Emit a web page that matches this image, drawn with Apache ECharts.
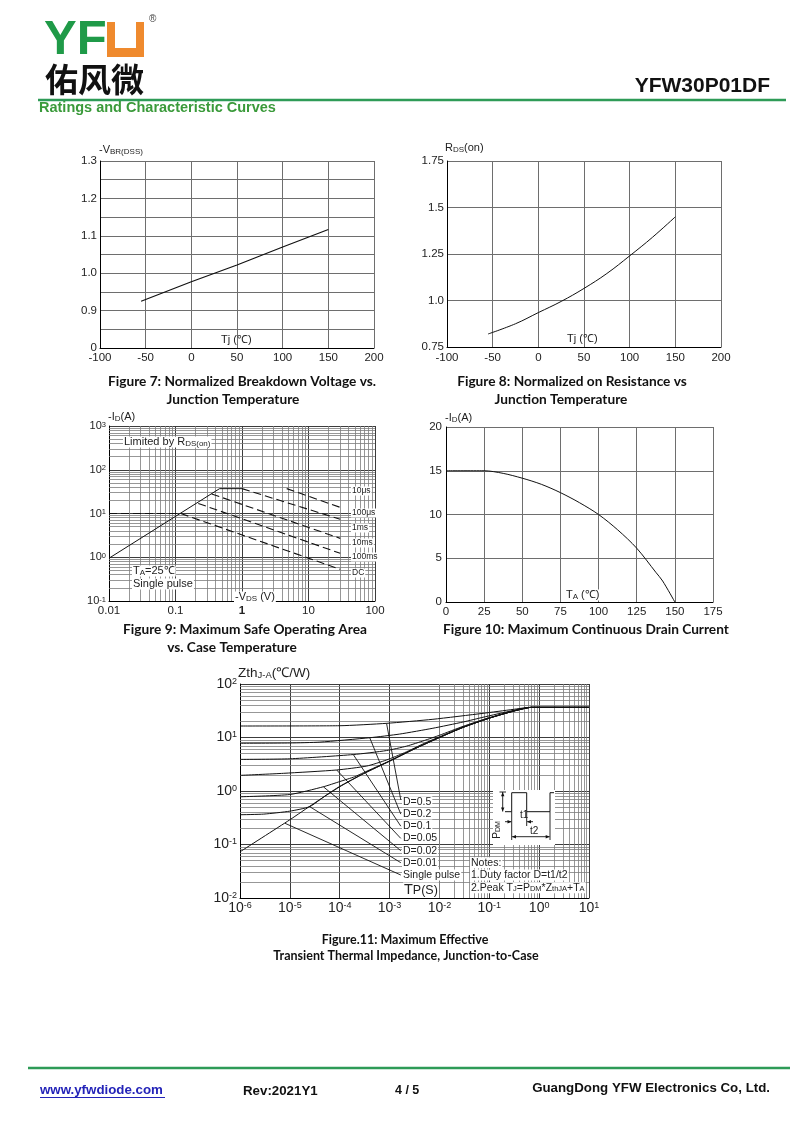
<!DOCTYPE html>
<html><head><meta charset="utf-8">
<script src="https://cdn.jsdelivr.net/npm/echarts@6/dist/echarts.min.js"></script>
<style>html,body{margin:0;padding:0;background:#fff}#c{width:800px;height:1130px}</style>
</head><body><div id="c"></div>
<script>
// ---------------- DATA ----------------
// Figure 7: normalized breakdown voltage vs Tj
const fig7Tj = [-55, 0, 50, 100, 150];
const fig7Vbr = [0.925, 0.977, 1.022, 1.070, 1.117];
// Figure 8: normalized RDS(on) vs Tj
const fig8Tj = [-55, -25, 0, 25, 50, 75, 100, 125, 150];
const fig8Rds = [0.82, 0.875, 0.935, 0.995, 1.065, 1.145, 1.24, 1.34, 1.45];
// Figure 9: safe operating area [VDS, ID]
const soaRdsLimit = [[0.01, 0.95], [0.46, 37], [1.0, 37]];
const soaLeftDashed = [[0.01, 10], [0.12, 10]];
const soa10us = [[4.7, 37], [30, 13.8]];
const soa100us = [[1.0, 37], [30, 7.4]];
const soa1ms = [[0.35, 28], [30, 2.7]];
const soa10ms = [[0.22, 17], [30, 1.23]];
const soaDC = [[0.12, 10], [30, 0.53]];
const soaLabels = ['10μs', '100μs', '1ms', '10ms', '100ms', 'DC'];
// Figure 10: max continuous drain current vs TA
const fig10Ta = [0, 25, 37.5, 50, 62.5, 75, 87.5, 100, 112.5, 125, 137.5, 142, 150];
const fig10Id = [15, 15, 14.7, 14.15, 13.45, 12.5, 11.35, 10, 8.25, 6.15, 3.4, 2.4, 0];
// Figure 11: transient thermal impedance [tp, Zth]
const zthD05 = [[1e-6,16.4],[1e-4,16.6],[8.7e-4,18.4],[7.4e-3,21.9],[0.075,28.3],[0.3,33.5],[0.65,36.6],[10,36.6]];
const zthD02 = [[1e-6,7.8],[1e-5,7.9],[4e-5,8.2],[4e-4,9.9],[1.6e-3,11.6],[7.4e-3,14.9],[3e-2,19.5],[0.075,23.9],[0.3,32],[0.7,36.6],[10,36.6]];
const zthD01 = [[1e-6,3.9],[1e-5,4.0],[1.87e-4,4.8],[8.7e-4,5.7],[2.2e-3,6.9],[5e-3,8.8],[1e-2,11],[3e-2,16.2],[0.1,23.5],[0.3,31.2],[0.7,36.6],[10,36.6]];
const zthD005 = [[1e-6,1.96],[7.4e-6,2.14],[8.7e-5,2.47],[3.5e-4,2.93],[8.7e-4,3.8],[2e-3,5.2],[5e-3,7.8],[1e-2,10.3],[3e-2,15.7],[0.1,23.1],[0.3,31],[0.7,36.6],[10,36.6]];
const zthD002 = [[1e-6,0.78],[1e-5,0.86],[4.7e-5,1.2],[1e-4,1.5],[2e-4,1.85],[3e-4,2.2],[1e-3,3.65],[3e-3,6.0],[1e-2,10],[3e-2,15.5],[0.1,23],[0.3,31],[0.7,36.6],[10,36.6]];
const zthD001 = [[1e-6,0.36],[3e-6,0.37],[1e-5,0.42],[2.5e-5,0.51],[5e-5,0.8],[1e-4,1.22],[3e-4,2.12],[1e-3,3.62],[3e-3,6.0],[1e-2,10],[3e-2,15.5],[0.1,23],[0.3,31],[0.7,36.6],[10,36.6]];
const zthSingle = [[1e-6,0.073],[1e-5,0.29],[3e-5,0.58],[1e-4,1.2],[3e-4,2.1],[1e-3,3.6],[3e-3,6],[1e-2,10],[3e-2,15.5],[0.1,23],[0.3,31],[0.7,36.6],[10,36.6]];
const zthLeaders = [
  [[8.7e-4,18.4],[1.68e-3,0.68]],
  [[4.0e-4,9.9],[1.68e-3,0.37]],
  [[1.87e-4,4.8],[1.68e-3,0.22]],
  [[8.7e-5,2.47],[1.68e-3,0.13]],
  [[4.7e-5,1.2],[1.68e-3,0.0766]],
  [[2.5e-5,0.51],[1.68e-3,0.0457]],
  [[8.0e-6,0.249],[1.68e-3,0.0269]]
];
const zthLabels = ['D=0.5','D=0.2','D=0.1','D=0.05','D=0.02','D=0.01','Single pulse'];
// log-axis minor grid multipliers
const minorMult = [2,3,4,5,6,7,8,9];
const fig9XLabels = ['0.01','0.1','{b|1}','10','100'];

// ---------------- HELPERS ----------------
const FONT = '"Liberation Sans", Arial, sans-serif';
const CAP = 'Lato, "Noto Sans", sans-serif';
function zip(a, b){ return a.map((v,i)=>[v,b[i]]); }
function logVals(e0, e1){ const o=[]; for(let e=e0;e<e1;e++) for(const m of minorMult) o.push(m*Math.pow(10,e)); return o; }
function sup(v){ const e=Math.round(Math.log10(v)); return '10{s|'+e+'}'; }

const axLine = {show:true, onZero:false, lineStyle:{color:'#000', width:1}};
const noTick = {show:false};
function split(c){ return {show:true, lineStyle:{color:c||'#6e6e6e', width:1}}; }
function lab(m, extra){ return Object.assign({color:'#222', fontSize:11.5, fontFamily:FONT, margin:m}, extra||{}); }

function minorSeries(gi, xs, ys, p0){
  const data = [];
  xs.forEach(v=>data.push({xAxis:v}));
  ys.forEach(v=>data.push({yAxis:v}));
  return {type:'line', xAxisIndex:gi, yAxisIndex:gi, data:[p0], showSymbol:false, silent:true, z:1,
    lineStyle:{opacity:0},
    markLine:{silent:true, symbol:['none','none'], label:{show:false}, animation:false,
      lineStyle:{color:'#7c7c7c', width:0.8, type:'solid'}, emphasis:{disabled:true}, data}};
}
function curve(gi, data, opt){
  return Object.assign({type:'line', xAxisIndex:gi, yAxisIndex:gi, data, showSymbol:false, silent:true, z:5,
    lineStyle:{color:'#111', width:1}}, opt||{});
}

// ---------------- AXES ----------------
const xAxis = [
  {gridIndex:0, type:'value', min:-100, max:200, interval:50, axisLine:axLine, axisTick:noTick, splitLine:split(), axisLabel:lab(4)},
  {gridIndex:1, type:'value', min:-100, max:200, interval:50, axisLine:axLine, axisTick:noTick, splitLine:split(), axisLabel:lab(5)},
  {gridIndex:2, type:'log', logBase:10, min:0.01, max:100, splitNumber:4, axisLine:axLine, axisTick:noTick, splitLine:split('#3c3c3c'),
    axisLabel:lab(4, {formatter:v=>fig9XLabels[Math.round(Math.log10(v))+2], rich:{b:{fontWeight:'bold', fontSize:11.5, fontFamily:FONT, color:'#222'}}})},
  {gridIndex:3, type:'value', min:0, max:175, interval:25, axisLine:axLine, axisTick:noTick, splitLine:split(), axisLabel:lab(4)},
  {gridIndex:4, type:'log', logBase:10, min:1e-6, max:10, splitNumber:7, axisLine:axLine, axisTick:noTick, splitLine:split('#3c3c3c'),
    axisLabel:lab(3, {fontSize:14, formatter:sup, rich:{s:{fontSize:9, verticalAlign:'top', fontFamily:FONT, color:'#222'}}})}
];
const yAxis = [
  {gridIndex:0, type:'value', min:0.8, max:1.3, interval:0.05, axisLine:axLine, axisTick:noTick, splitLine:split(),
    axisLabel:lab(3, {formatter:v=>{const r=Math.round(v*100); if(r===80) return '0'; if(r%10===0) return (r/100).toFixed(1); return '';}})},
  {gridIndex:1, type:'value', min:0.75, max:1.75, interval:0.25, axisLine:axLine, axisTick:noTick, splitLine:split(),
    axisLabel:lab(3, {formatter:v=>Math.abs(v-1)<1e-9?'1.0':String(+v.toFixed(2))})},
  {gridIndex:2, type:'log', logBase:10, min:0.1, max:1000, splitNumber:4, axisLine:axLine, axisTick:noTick, splitLine:split('#3c3c3c'),
    axisLabel:lab(3, {fontSize:11, formatter:sup, rich:{s:{fontSize:7.5, verticalAlign:'top', fontFamily:FONT, color:'#222'}}})},
  {gridIndex:3, type:'value', min:0, max:20, interval:5, axisLine:axLine, axisTick:noTick, splitLine:split(), axisLabel:lab(4)},
  {gridIndex:4, type:'log', logBase:10, min:0.01, max:100, splitNumber:4, axisLine:axLine, axisTick:noTick, splitLine:split('#3c3c3c'),
    axisLabel:lab(3, {fontSize:14, formatter:sup, rich:{s:{fontSize:9, verticalAlign:'top', fontFamily:FONT, color:'#222'}}})}
];

// ---------------- SERIES ----------------
const dash = {color:'#111', width:1.1, type:[8,4]};
const series = [
  curve(0, zip(fig7Tj, fig7Vbr), {lineStyle:{color:'#111', width:1.2}}),
  curve(1, zip(fig8Tj, fig8Rds), {smooth:0.4}),
  minorSeries(2, logVals(-2,2), logVals(-1,3), [0.01,0.1]),
  curve(2, soaRdsLimit),
  curve(2, soaLeftDashed, {lineStyle:dash}),
  curve(2, soa10us, {lineStyle:dash}),
  curve(2, soa100us, {lineStyle:dash}),
  curve(2, soa1ms, {lineStyle:dash}),
  curve(2, soa10ms, {lineStyle:dash}),
  curve(2, soaDC, {lineStyle:dash}),
  curve(3, zip(fig10Ta, fig10Id), {smooth:0.3}),
  minorSeries(4, logVals(-6,1), logVals(-2,2), [1e-6,0.01]),
  curve(4, zthD05, {smooth:0.2}),
  curve(4, zthD02, {smooth:0.2}),
  curve(4, zthD01, {smooth:0.2}),
  curve(4, zthD005, {smooth:0.2}),
  curve(4, zthD002, {smooth:0.2}),
  curve(4, zthD001, {smooth:0.2}),
  curve(4, zthSingle, {smooth:0.2})
];
zthLeaders.forEach(l=>series.push(curve(4, l, {lineStyle:{color:'#111', width:0.9}})));

// ---------------- GRAPHICS (text / decorations) ----------------
function txt(x, y, text, o){
  return {type:'text', x, y, z:100, silent:true,
    style:Object.assign({text, fill:'#222', fontSize:11.5, fontFamily:FONT, align:'left', verticalAlign:'middle'}, o||{})};
}
function ln(x1,y1,x2,y2,c,w,z){ return {type:'line', z:z||100, silent:true, shape:{x1,y1,x2,y2}, style:{stroke:c||'#111', lineWidth:w||1}}; }
const subRich = (fs)=>({sub:{fontSize:fs, verticalAlign:'bottom', fontFamily:FONT, fill:'#222'}});
const white = {backgroundColor:'#fff', padding:[0,1]};
const capStyle = {fontFamily:CAP, fontWeight:'bold', fontSize:13.7, fill:'#111', align:'center'};
const capStyle11 = Object.assign({}, capStyle, {fontSize:12.5});
const GREEN = '#2e9b57';

const graphics = [
  // header
  txt(44, 40, 'YF', {fontSize:49, fontWeight:'bold', fill:'#1f9a48', fontFamily:FONT}),
  {type:'rect', z:100, silent:true, shape:{x:107, y:22, width:37, height:35}, style:{fill:'#ef8a2e'}},
  {type:'rect', z:101, silent:true, shape:{x:115, y:22, width:21, height:26}, style:{fill:'#fff'}},
  txt(149, 19, '®', {fontSize:10, fill:'#444'}),
  txt(45, 79, '佑风微', {fontSize:33, fontFamily:'"Noto Sans CJK SC", sans-serif', fontWeight:'bold', fill:'#111'}),
  txt(770, 86, 'YFW30P01DF', {fontSize:21, fontWeight:'bold', fill:'#111', align:'right'}),
  ln(38, 100, 786, 100, GREEN, 2.5),
  txt(39, 108, 'Ratings and Characteristic Curves', {fontSize:14.5, fontWeight:'bold', fill:'#3a9a3a'}),
  // footer
  ln(28, 1068, 790, 1068, GREEN, 2.5),
  txt(40, 1090, 'www.yfwdiode.com', {fontSize:13.3, fontWeight:'bold', fill:'#2323b8'}),
  ln(40, 1097.5, 165, 1097.5, '#2323b8', 1),
  txt(243, 1091, 'Rev:2021Y1', {fontSize:13.3, fontWeight:'bold', fill:'#111'}),
  txt(395, 1091, '4 / 5', {fontSize:12.5, fontWeight:'bold', fill:'#111'}),
  txt(770, 1088, 'GuangDong YFW Electronics Co, Ltd.', {fontSize:13.3, fontWeight:'bold', fill:'#111', align:'right'}),
  // Fig 7
  txt(99, 150, '-V{sub|BR(DSS)}', {fontSize:11, rich:subRich(8)}),
  txt(221, 340, 'Tj (℃)', {fontSize:11}),
  txt(242, 382, 'Figure 7: Normalized Breakdown Voltage vs.', capStyle),
  txt(233, 400, 'Junction Temperature', capStyle),
  // Fig 8
  txt(445, 148, 'R{sub|DS}(on)', {fontSize:11, rich:subRich(8)}),
  txt(567, 339, 'Tj (℃)', {fontSize:11}),
  txt(572, 382, 'Figure 8: Normalized on Resistance vs', capStyle),
  txt(561, 400, 'Junction Temperature', capStyle),
  // Fig 9
  txt(108, 417, '-I{sub|D}(A)', {fontSize:11, rich:subRich(8)}),
  txt(123, 442, 'Limited by R{sub|DS(on)}', Object.assign({fontSize:11, rich:subRich(8)}, white)),
  txt(132, 571, 'T{sub|A}=25℃', Object.assign({fontSize:11, rich:subRich(8)}, white)),
  txt(132, 584, 'Single pulse', Object.assign({fontSize:11}, white)),
  txt(234, 597, '-V{sub|DS} (V)', Object.assign({fontSize:11, rich:subRich(8)}, white)),
  txt(245, 630, 'Figure 9: Maximum Safe Operating Area', capStyle),
  txt(232, 648, 'vs. Case Temperature', capStyle),
  // Fig 10
  txt(445, 418, '-I{sub|D}(A)', {fontSize:11, rich:subRich(8)}),
  txt(565, 595, 'T{sub|A} (℃)', Object.assign({fontSize:11, rich:subRich(8)}, white)),
  txt(586, 630, 'Figure 10: Maximum Continuous Drain Current', capStyle),
  // Fig 11
  txt(238, 673, 'Zth{sub|J-A}(℃/W)', {fontSize:13.5, rich:subRich(9.5)}),
  txt(403, 890, 'T{p|P(S)}', Object.assign({fontSize:14.5, rich:{p:{fontSize:12.5, fontFamily:FONT, fill:'#222', verticalAlign:'bottom'}}}, white)),
  txt(470, 862.7, 'Notes:', Object.assign({fontSize:10.5}, white)),
  txt(470, 875, '1.Duty factor D=t1/t2', Object.assign({fontSize:10.5}, white)),
  txt(470, 887.7, '2.Peak T{sub|J}=P{sub|DM}*Z{sub|thJA}+T{sub|A}', Object.assign({fontSize:10.5, rich:subRich(7.5)}, white)),
  txt(405, 940, 'Figure.11: Maximum Effective', capStyle11),
  txt(406, 956, 'Transient Thermal Impedance, Junction-to-Case', capStyle11),
  // Fig 11 inset pulse diagram
  {type:'rect', z:90, silent:true, shape:{x:493, y:790, width:62, height:55}, style:{fill:'#fff'}},
  {type:'polyline', z:100, silent:true, shape:{points:[[505,811.7],[511.7,811.7],[511.7,792.7],[526.7,792.7],[526.7,811.7],[550,811.7],[550,792.7],[554,792.7]]}, style:{stroke:'#111', lineWidth:1, fill:null}},
  ln(502.7, 792, 502.7, 811.5, '#111', 0.9),
  ln(499.5, 792, 506, 792, '#111', 0.9),
  ln(511.7, 811.7, 511.7, 840, '#111', 0.9),
  ln(526.7, 811.7, 526.7, 826, '#111', 0.9),
  ln(550, 811.7, 550, 840, '#111', 0.9),
  ln(505, 821.7, 511.2, 821.7, '#111', 0.9),
  ln(527.2, 821.7, 533, 821.7, '#111', 0.9),
  ln(512.2, 836.7, 549.5, 836.7, '#111', 0.9),
  {type:'polygon', z:100, silent:true, shape:{points:[[511.5,821.7],[507.5,820],[507.5,823.4]]}, style:{fill:'#111'}},
  {type:'polygon', z:100, silent:true, shape:{points:[[527,821.7],[531,820],[531,823.4]]}, style:{fill:'#111'}},
  {type:'polygon', z:100, silent:true, shape:{points:[[512,836.7],[516,835],[516,838.4]]}, style:{fill:'#111'}},
  {type:'polygon', z:100, silent:true, shape:{points:[[549.7,836.7],[545.7,835],[545.7,838.4]]}, style:{fill:'#111'}},
  {type:'polygon', z:100, silent:true, shape:{points:[[502.7,792.3],[501,796.3],[504.4,796.3]]}, style:{fill:'#111'}},
  {type:'polygon', z:100, silent:true, shape:{points:[[502.7,811.4],[501,807.4],[504.4,807.4]]}, style:{fill:'#111'}},
  txt(520, 815.5, 't1', {fontSize:10}),
  txt(530, 831, 't2', {fontSize:10}),
  {type:'text', z:100, silent:true, x:497, y:830, rotation:Math.PI/2, style:{text:'P{sub|DM}', fontSize:10, fontFamily:FONT, fill:'#222', align:'center', verticalAlign:'middle', rich:subRich(7)}}
];
// SOA right-side labels
const soaLabelY = [491, 513, 528, 543, 557, 573];
soaLabels.forEach((s,i)=>graphics.push(txt(351, soaLabelY[i], s, Object.assign({fontSize:8.5}, white))));
// Zth duty labels
const zthLabelY = [801.7, 814, 826, 838.3, 850.7, 862.7, 875];
zthLabels.forEach((s,i)=>graphics.push(txt(402, zthLabelY[i], s, Object.assign({fontSize:10.5}, white))));

const grid = [
  {left:100, top:161, width:274, height:187},
  {left:447, top:161, width:274, height:186},
  {left:109, top:426, width:266, height:175},
  {left:446, top:427, width:267, height:175},
  {left:240, top:684, width:349, height:214}
].map(g=>Object.assign({containLabel:false, outerBoundsMode:'none', show:false}, g));

const chart = echarts.init(document.getElementById('c'), null, {renderer:'canvas', width:800, height:1130});
chart.setOption({animation:false, backgroundColor:'#fff', grid, xAxis, yAxis, series, graphic:{elements:graphics}});
</script>
</body></html>
